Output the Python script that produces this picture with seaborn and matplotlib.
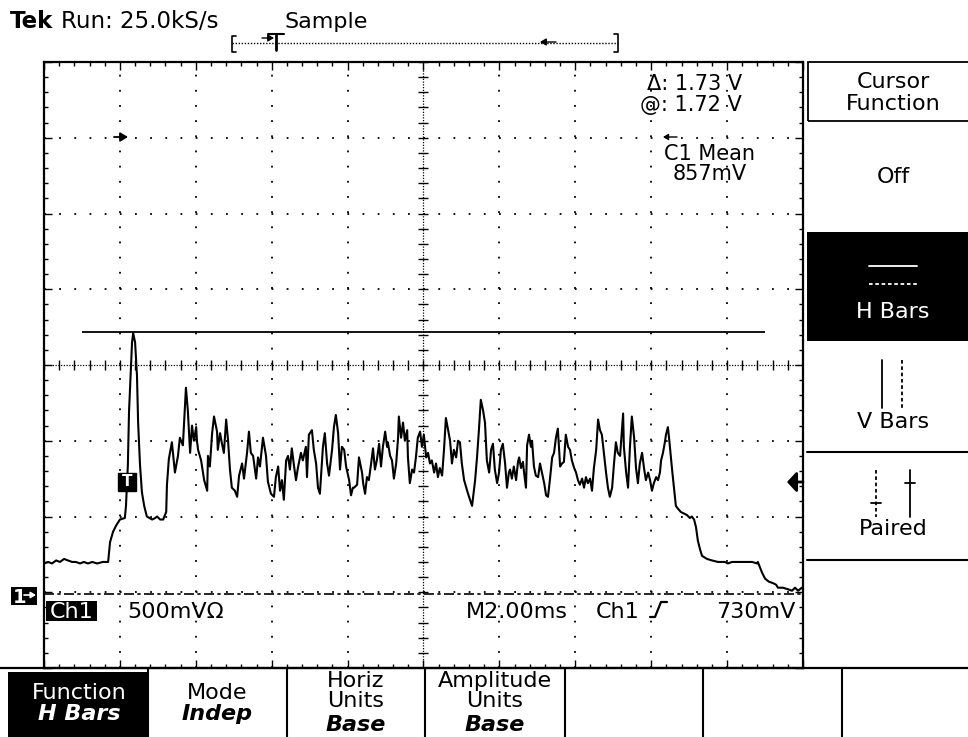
import matplotlib
matplotlib.use("Agg")
import matplotlib.pyplot as plt
from matplotlib.lines import Line2D
from matplotlib.patches import Rectangle, FancyArrowPatch
from matplotlib.ticker import MultipleLocator
import numpy as np
import pandas as pd
import seaborn as sns

# ---------------- data (time in ms, Ch1 in volts) ----------------
time_ms = [
    0.00, 0.11, 0.21, 0.32, 0.42, 0.53, 0.63, 0.74, 0.84, 0.95, 1.05, 1.16, 1.27, 1.40, 1.55, 1.69,
    1.74, 1.82, 1.90, 2.00, 2.13, 2.16, 2.21, 2.24, 2.32, 2.35, 2.40, 2.45, 2.48, 2.53, 2.58, 2.64,
    2.71, 2.85, 2.93, 2.98, 3.06, 3.14, 3.22, 3.24, 3.29, 3.37, 3.45, 3.53, 3.58, 3.66, 3.74, 3.79,
    3.85, 3.90, 3.95, 4.01,
    4.03, 4.06, 4.14, 4.22, 4.30, 4.32, 4.37, 4.43, 4.48, 4.56, 4.58, 4.64, 4.69, 4.74, 4.80, 4.85,
    4.90, 4.95, 5.03, 5.09, 5.14, 5.22, 5.27, 5.35, 5.40, 5.45, 5.51, 5.59, 5.64, 5.69, 5.77, 5.85,
    5.90, 5.98, 6.06, 6.11, 6.17, 6.22, 6.27, 6.32, 6.38, 6.43, 6.48, 6.53, 6.59, 6.64, 6.69, 6.77,
    6.82, 6.90, 6.93, 6.98, 7.06, 7.11, 7.17, 7.22, 7.27, 7.35, 7.40, 7.46, 7.51, 7.59, 7.64, 7.69,
    7.75, 7.80, 7.85, 7.91, 7.96, 8.04, 8.09, 8.14,
    8.17, 8.25, 8.30, 8.38, 8.41, 8.46, 8.51, 8.56, 8.62, 8.67, 8.72, 8.77, 8.83, 8.88, 8.93, 8.99,
    9.04, 9.06, 9.12, 9.17, 9.22, 9.28, 9.33, 9.35, 9.41, 9.46, 9.51, 9.57, 9.59, 9.64, 9.70, 9.75,
    9.80, 9.85, 9.91, 9.96, 10.01, 10.07, 10.12, 10.17, 10.22, 10.28, 10.33, 10.38, 10.43, 10.49,
    10.54, 10.59, 10.65, 10.70, 10.75, 10.80, 10.86, 10.91, 10.96, 11.01, 11.07, 11.15, 11.20,
    11.28, 11.36, 11.41, 11.46, 11.51, 11.57, 11.62, 11.67, 11.73, 11.78, 11.83, 11.88, 11.94,
    11.99, 12.04, 12.09, 12.15, 12.20, 12.25,
    12.28, 12.33, 12.38, 12.44, 12.49, 12.52, 12.57, 12.62, 12.65, 12.70, 12.73, 12.78, 12.83,
    12.86, 12.91, 12.96, 13.02, 13.07, 13.12, 13.18, 13.23, 13.28, 13.33, 13.39, 13.44, 13.49,
    13.54, 13.57, 13.60, 13.65, 13.70, 13.75, 13.81, 13.86, 13.91, 13.97, 14.02, 14.07, 14.12,
    14.18, 14.23, 14.28, 14.33, 14.39, 14.44, 14.49, 14.55, 14.60, 14.65, 14.70, 14.76, 14.81,
    14.86, 14.91, 14.97, 15.02, 15.07, 15.12, 15.18, 15.23, 15.26, 15.28, 15.34, 15.39, 15.44,
    15.49, 15.55, 15.60, 15.65, 15.70, 15.76, 15.81, 15.86, 15.92, 15.97, 16.02, 16.07, 16.13,
    16.18, 16.23, 16.26, 16.31, 16.34,
    16.36, 16.39, 16.44, 16.47, 16.50, 16.55, 16.60, 16.65, 16.71, 16.78, 16.86, 16.94, 17.02,
    17.07, 17.13, 17.18, 17.23, 17.29, 17.34, 17.47, 17.60, 17.76, 17.94, 18.02, 18.13, 18.29,
    18.66, 18.79, 18.81, 18.92, 19.00, 19.10, 19.21, 19.29, 19.34, 19.47, 19.60, 19.71, 19.79,
    19.87, 19.97,
]
volts = [
    0.19, 0.20, 0.19, 0.21, 0.20, 0.22, 0.21, 0.20, 0.20, 0.19, 0.20, 0.19, 0.20, 0.19, 0.20, 0.20,
    0.33, 0.40, 0.44, 0.48, 0.49, 0.57, 0.84, 1.19, 1.65, 1.71, 1.65, 1.43, 1.12, 0.84, 0.66, 0.57,
    0.50, 0.48, 0.49, 0.50, 0.48, 0.48, 0.53, 0.71, 0.88, 0.99, 0.79, 0.90, 1.02, 0.97, 1.35, 1.20,
    0.92, 1.10, 1.00, 1.09,
    1.00, 0.94, 0.87, 0.74, 0.67, 0.90, 0.83, 1.05, 1.16, 1.06, 0.94, 1.05, 0.98, 0.92, 1.14, 1.00,
    0.81, 0.69, 0.67, 0.63, 0.77, 0.85, 0.75, 0.92, 1.06, 0.92, 0.90, 0.75, 0.89, 0.83, 1.02, 0.90,
    0.73, 0.65, 0.63, 0.76, 0.83, 0.67, 0.74, 0.61, 0.87, 0.90, 0.81, 0.95, 0.83, 0.74, 0.82, 0.92,
    0.87, 0.96, 0.76, 1.04, 1.07, 0.94, 0.85, 0.69, 0.65, 0.96, 1.05, 0.85, 0.77, 0.94, 1.09, 1.17,
    1.05, 0.81, 0.96, 0.94, 0.83, 0.74, 0.64, 0.69,
    0.69, 0.71, 0.89, 0.79, 0.72, 0.65, 0.76, 0.74, 0.85, 0.95, 0.81, 0.87, 0.98, 0.83, 0.96, 1.06,
    0.96, 0.99, 0.90, 0.87, 0.75, 0.85, 1.02, 1.16, 1.02, 1.12, 1.00, 1.07, 0.89, 0.72, 0.81, 0.79,
    0.89, 1.02, 1.06, 0.96, 1.04, 0.89, 0.92, 0.85, 0.87, 0.79, 0.85, 0.76, 0.82, 0.77,
    0.94, 1.15, 1.07, 1.00, 0.85, 0.94, 0.89, 1.00, 0.99, 0.85, 0.74, 0.67, 0.63,
    0.57, 0.74, 0.89, 1.07, 1.27, 1.20, 1.12, 0.87, 0.79, 0.94, 0.98, 0.81, 0.72,
    0.79, 0.94, 0.98, 0.85, 0.69, 0.79,
    0.81, 0.75, 0.83, 0.74, 0.86, 0.89, 0.82, 0.86, 0.79, 0.69, 0.97, 1.04, 0.96,
    1.00, 0.83, 0.77, 0.76, 0.85, 0.79, 0.72, 0.64, 0.63, 0.74, 0.89, 0.92, 1.02,
    1.08, 0.96, 0.83, 0.85, 0.86, 1.04, 0.96, 0.94, 0.87, 0.82, 0.79, 0.74, 0.71,
    0.75, 0.69, 0.76, 0.72, 0.75, 0.67, 0.82, 0.94, 1.14, 1.07, 1.04, 0.90, 0.79,
    0.69, 0.63, 0.69, 0.85, 0.99, 0.92, 0.90, 1.08, 1.18, 0.96, 0.79, 0.69, 0.96,
    1.16, 1.02, 0.82, 0.72, 0.85, 0.92, 0.82, 0.74, 0.79, 0.74, 0.67, 0.72, 0.76,
    0.74, 0.79, 0.87, 0.92, 0.96,
    0.99, 1.04, 1.09, 1.02, 0.94, 0.81, 0.69, 0.57, 0.55, 0.53, 0.52, 0.51, 0.49,
    0.50, 0.48, 0.43, 0.34, 0.28, 0.24, 0.22, 0.21, 0.20, 0.20, 0.19, 0.20, 0.20,
    0.20, 0.19, 0.20, 0.13, 0.09, 0.07, 0.06, 0.05, 0.03, 0.03, 0.02, 0.01, 0.03,
    0.01, 0.03,
]

cursor_v = 1.72          # active H-bar cursor
cursor_ref_v = -0.01     # second (dash-dot) H-bar cursor
cursor_span_ms = (1.0, 19.0)
trigger_ms = 2.19
trigger_v = 0.73

readout_delta = "\u0394: 1.73 V"
readout_at = "@: 1.72 V"
meas_title = "C1 Mean"
meas_value = "857mV"
side_menu = ["Cursor", "Function", "Off", "H Bars", "V Bars", "Paired"]
bottom_menu = [("Function", "H Bars"), ("Mode", "Indep"), ("Horiz", "Units", "Base"),
               ("Amplitude", "Units", "Base")]

# ---------------- figure ----------------
sns.set_theme(style="white")
plt.rcParams['font.family'] = ['DejaVu Sans']

W, H = 968, 737
fig = plt.figure(figsize=(W / 100, H / 100), dpi=100, facecolor="white")


def fx(x):
    return x / W


def fy(y):
    return 1 - y / H


def ftext(x, y, s, **kw):
    kw.setdefault("fontsize", 15)
    kw.setdefault("color", "black")
    kw.setdefault("va", "baseline")
    fig.text(fx(x), fy(y), s, **kw)


def fline(xs, ys, **kw):
    kw.setdefault("color", "black")
    kw.setdefault("lw", 1.1)
    fig.add_artist(Line2D([fx(x) for x in xs], [fy(y) for y in ys],
                          transform=fig.transFigure, **kw))


def frect(x0, y0, x1, y1, **kw):
    fig.add_artist(Rectangle((fx(x0), fy(y1)), (x1 - x0) / W, (y1 - y0) / H,
                             transform=fig.transFigure, **kw))


def farrow(x0, y0, x1, y1, color="black", lw=1.4, ms=10,
           style="-|>,head_length=0.5,head_width=0.3"):
    fig.add_artist(FancyArrowPatch((fx(x0), fy(y0)), (fx(x1), fy(y1)),
                                   transform=fig.transFigure, arrowstyle=style,
                                   mutation_scale=ms, color=color, lw=lw,
                                   shrinkA=0, shrinkB=0))


ax = fig.add_axes([fx(44), fy(668), 759 / W, 606 / H])
ax.set_facecolor("white")
df = pd.DataFrame({"t": time_ms, "v": volts})
sns.lineplot(data=df, x="t", y="v", ax=ax, color="black", lw=1.5,
             estimator=None, sort=False, zorder=5)
ax.set_xlim(0, 20)
ax.set_ylim(-0.5, 3.5)
ax.set_xlabel("")
ax.set_ylabel("")

# graticule
dot = (0, (1, 7.4))
for xv in np.arange(2, 20, 2):
    if xv != 10:
        ax.axvline(xv, color="black", lw=1.3, ls=dot, zorder=1)
for yv in np.arange(0.0, 3.5, 0.5):
    if abs(yv - 1.5) > 1e-6:
        ax.axhline(yv, color="black", lw=1.3, ls=dot, zorder=1)
ax.axvline(10, color="black", lw=0.9, ls=(0, (1, 1.2)), zorder=1)
ax.axhline(1.5, color="black", lw=0.9, ls=(0, (1, 1.2)), zorder=1)
yy = np.arange(-0.5, 3.51, 0.1)
ax.plot(np.full(len(yy), 10.0), yy, ls="none", marker="_", ms=7, mew=1, color="black", zorder=1)
xx = np.arange(0, 20.01, 0.4)
ax.plot(xx, np.full(len(xx), 1.5), ls="none", marker="|", ms=7, mew=1, color="black", zorder=1)

ax.xaxis.set_major_locator(MultipleLocator(2))
ax.xaxis.set_minor_locator(MultipleLocator(0.4))
ax.yaxis.set_major_locator(MultipleLocator(0.5))
ax.yaxis.set_minor_locator(MultipleLocator(0.1))
ax.tick_params(which="both", direction="in", top=True, right=True, bottom=True, left=True,
               labelbottom=False, labelleft=False, color="black")
ax.tick_params(which="major", length=6, width=1)
ax.tick_params(which="minor", length=3, width=1)
for sp in ax.spines.values():
    sp.set_color("black")
    sp.set_linewidth(1.6)

# cursors
ax.hlines(cursor_v, cursor_span_ms[0], cursor_span_ms[1], color="black", lw=1.3, zorder=4)
ax.axhline(cursor_ref_v, color="black", lw=1.2, ls=(0, (6, 2, 2, 2)), zorder=4)

# trigger marker on trace
ax.plot([trigger_ms], [trigger_v], marker="s", ms=13, color="black", zorder=6)
ax.text(trigger_ms, trigger_v, "T", color="white", fontsize=11, ha="center", va="center",
        zorder=7, fontweight="bold")

# ---------------- header ----------------
ftext(10, 28, "Tek", fontsize=16.5, fontweight="bold")
ftext(61, 28, "Run: 25.0kS/s", fontsize=16.5)
ftext(284, 28, "Sample", fontsize=16)
# record bracket
fline([236, 232, 232, 236], [36, 36, 52, 52], lw=1.2)
fline([232, 618], [43, 43], lw=1.0, ls=(0, (1, 1.2)))
fline([614, 618, 618, 614], [34, 34, 52, 52], lw=1.2)
fline([268, 284], [34, 34], lw=1.5)
fline([276, 276], [34, 50], lw=2.0)
farrow(262, 38, 274, 38, ms=7, lw=1.0)
farrow(556, 42, 540, 42, ms=7, lw=1.0)

# ---------------- in-screen readouts ----------------
ftext(742, 90, readout_delta, ha="right")
ftext(742, 111, readout_at, ha="right")
ftext(709, 160, meas_title, ha="center")
farrow(677, 137, 663, 137, ms=6, lw=1.0)
ftext(710, 180, meas_value, ha="center")
farrow(114, 137, 128, 137, ms=9, lw=1.3)
# trigger level arrow at right edge
farrow(803, 482, 787, 482, ms=16, lw=2.0, style="-|>,head_length=0.35,head_width=0.38")

# bottom status line in screen
frect(11, 587, 37, 605, facecolor="black", edgecolor="none")
ftext(13, 603, "1", color="white", fontsize=14, fontweight="bold")
farrow(24, 595, 36, 595, color="white", ms=6, lw=1.2)
frect(46, 601, 97, 621, facecolor="black", edgecolor="none")
ftext(71.5, 618, "Ch1", color="white", fontsize=16, ha="center")
ftext(127, 618, "500mV\u03a9", fontsize=16)
ftext(466, 618, "M2.00ms", fontsize=16)
ftext(596, 618, "Ch1", fontsize=16)
fline([650, 655, 661, 667], [617, 617, 602, 602], lw=1.6)
ftext(796, 618, "730mV", fontsize=16, ha="right")

# ---------------- right side menu ----------------
frect(808, 62, 972, 121, facecolor="none", edgecolor="black", lw=1.3)
ftext(893, 88, side_menu[0], fontsize=16, ha="center")
ftext(893, 110, side_menu[1], fontsize=16, ha="center")
ftext(893, 183, side_menu[2], fontsize=16, ha="center")
frect(807, 232, 972, 341, facecolor="black", edgecolor="none")
fline([869, 917], [266, 266], color="white", lw=1.3)
fline([869, 917], [284, 284], color="white", lw=1.3, ls=(0, (2, 1.5)))
ftext(893, 318, side_menu[3], fontsize=16, ha="center", color="white")
fline([882, 882], [360, 408], lw=1.3)
fline([902, 902], [360, 408], lw=1.3, ls=(0, (2, 1.5)))
ftext(893, 428, side_menu[4], fontsize=16, ha="center")
fline([807, 968], [452, 452], lw=1.5)
fline([876, 876], [470, 517], lw=1.3, ls=(0, (2, 1.5)))
fline([871, 881], [503, 503], lw=1.3)
fline([910, 910], [470, 517], lw=1.3)
fline([905, 915], [483, 483], lw=1.3)
ftext(893, 535, side_menu[5], fontsize=16, ha="center")
fline([807, 968], [560, 560], lw=1.5)

# ---------------- bottom menu ----------------
fline([0, 968], [668, 668], lw=1.6)
for xs in [148, 287, 425, 565, 703, 842]:
    fline([xs, xs], [668, 737], lw=1.5)
frect(8, 672, 148, 740, facecolor="black", edgecolor="none")
centers = [79, 217, 356, 495]
for i, (cx, labels) in enumerate(zip(centers, bottom_menu)):
    col = "white" if i == 0 else "black"
    if len(labels) == 2:
        ftext(cx, 699, labels[0], fontsize=16, ha="center", color=col)
        ftext(cx, 720, labels[1], fontsize=16, ha="center", color=col,
              fontweight="bold", fontstyle="italic")
    else:
        ftext(cx, 687, labels[0], fontsize=16, ha="center", color=col)
        ftext(cx, 707, labels[1], fontsize=16, ha="center", color=col)
        ftext(cx, 731, labels[2], fontsize=16, ha="center", color=col,
              fontweight="bold", fontstyle="italic")

fig.savefig("out.png", dpi=100, facecolor="white")
